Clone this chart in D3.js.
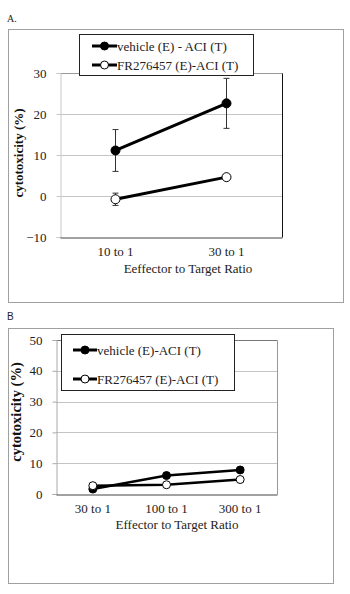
<!DOCTYPE html>
<html><head><meta charset="utf-8">
<script src="https://cdn.jsdelivr.net/npm/d3@7"></script>
<style>html,body{margin:0;padding:0;background:#fff;}svg{display:block;}</style>
</head><body>
<script>
// ---- Panel A data ----
const categoriesA = ["10 to 1", "30 to 1"];
const vehicleA = [11.1, 22.6];
const vehicleAErr = [5.1, 6.1];
const frA = [-0.8, 4.6];
const frAErr = [1.5, 0.7];
const ticksA = [-10, 0, 10, 20, 30];
const legendA = ["vehicle (E) - ACI (T)", "FR276457 (E)-ACI (T)"];
const xTitleA = "Eeffector to Target Ratio";

// ---- Panel B data ----
const categoriesB = ["30 to 1", "100 to 1", "300 to 1"];
const vehicleB = [1.6, 6.0, 7.8];
const frB = [2.7, 3.0, 4.7];
const ticksB = [0, 10, 20, 30, 40, 50];
const legendB = ["vehicle (E)-ACI (T)", "FR276457 (E)-ACI (T)"];
const xTitleB = "Effector to Target Ratio";

const yTitle = "cytotoxicity (%)";
const serif = "'Liberation Serif','Times New Roman',serif";

const svg = d3.select("body").append("svg").attr("width", 350).attr("height", 594);

function panel(o) {
  const g = svg.append("g");
  // outer frame
  g.append("rect").attr("x", o.frame[0] + 0.5).attr("y", o.frame[1] + 0.5)
    .attr("width", o.frame[2] - o.frame[0]).attr("height", o.frame[3] - o.frame[1])
    .attr("fill", "#fff").attr("stroke", "#a0a0a0").attr("stroke-width", 1);
  g.append("text").attr("x", 7).attr("y", o.labelY).text(o.label)
    .attr("font-family", o.labelFont).attr("font-size", o.labelSize).attr("fill", "#222");

  const x = d3.scaleBand().domain(o.cats).range([o.plot[0], o.plot[2]]);
  const y = d3.scaleLinear().domain([o.ticks[0], o.ticks[o.ticks.length - 1]]).range([o.plot[3], o.plot[1]]);
  const cx = c => x(c) + x.bandwidth() / 2;

  // gridlines
  g.append("g").selectAll("line").data(o.ticks.slice(1, -1)).join("line")
    .attr("x1", o.plot[0]).attr("x2", o.plot[2])
    .attr("y1", d => Math.round(y(d)) + 0.5).attr("y2", d => Math.round(y(d)) + 0.5)
    .attr("stroke", "#c4c4c4").attr("stroke-width", 1);
  // plot border top & right
  const top = Math.round(y(o.ticks[o.ticks.length - 1])) + 0.5;
  const bot = Math.round(y(o.ticks[0])) + 0.5;
  g.append("line").attr("x1", o.plot[0]).attr("x2", o.plot[2] + 0.5).attr("y1", top).attr("y2", top)
    .attr("stroke", o.topColor).attr("stroke-width", 1);
  g.append("line").attr("x1", o.plot[2] + 0.5).attr("x2", o.plot[2] + 0.5).attr("y1", top).attr("y2", bot)
    .attr("stroke", o.rightColor).attr("stroke-width", 1);
  // left axis
  const yAxis = g.append("g").attr("transform", `translate(${o.plot[0] + 0.5},0)`)
    .call(d3.axisLeft(y).tickValues(o.ticks).tickSize(4).tickPadding(o.tickPad).tickFormat(d3.format("d")));
  yAxis.select(".domain").attr("stroke", o.leftColor);
  yAxis.selectAll(".tick line").attr("stroke", o.leftColor);
  yAxis.selectAll("text").attr("font-family", serif).attr("font-size", 13).attr("fill", "#222");
  // bottom axis
  const xAxis = g.append("g").attr("transform", `translate(0,${bot})`)
    .call(d3.axisBottom(x).tickSize(0).tickPadding(o.xPad));
  xAxis.select(".domain").attr("stroke", "#444");
  xAxis.selectAll("text").attr("font-family", serif).attr("font-size", 13).attr("fill", "#222");

  // titles
  g.append("text").attr("transform", `translate(${o.yTitlePos[0]},${o.yTitlePos[1]}) rotate(-90)`)
    .attr("text-anchor", "middle").attr("font-family", serif).attr("font-weight", "bold")
    .attr("font-size", o.yTitleSize).attr("fill", "#111").text(yTitle);
  g.append("text").attr("x", o.xTitlePos[0]).attr("y", o.xTitlePos[1]).attr("text-anchor", "middle")
    .attr("font-family", serif).attr("font-size", 13).attr("fill", "#222").text(o.xTitle);

  // series
  const series = [
    { vals: o.veh, err: o.vehErr, fill: "#000" },
    { vals: o.fr, err: o.frErr, fill: "#fff" }
  ];
  const line = d3.line().x((d, i) => cx(o.cats[i])).y(d => y(d));
  series.forEach(s => {
    if (s.err) {
      const eg = g.append("g");
      s.vals.forEach((v, i) => {
        const px = cx(o.cats[i]);
        eg.append("line").attr("x1", px).attr("x2", px).attr("y1", y(v - s.err[i])).attr("y2", y(v + s.err[i]))
          .attr("stroke", "#333").attr("stroke-width", 1);
        [v - s.err[i], v + s.err[i]].forEach(e => {
          eg.append("line").attr("x1", px - 3).attr("x2", px + 3).attr("y1", y(e)).attr("y2", y(e))
            .attr("stroke", "#333").attr("stroke-width", 1);
        });
      });
    }
    g.append("path").datum(s.vals).attr("d", line).attr("fill", "none")
      .attr("stroke", "#000").attr("stroke-width", o.lw);
  });
  series.forEach(s => {
    g.append("g").selectAll("circle").data(s.vals).join("circle")
      .attr("cx", (d, i) => cx(o.cats[i])).attr("cy", d => y(d)).attr("r", o.r)
      .attr("fill", s.fill).attr("stroke", "#000").attr("stroke-width", 1);
  });

  // legend
  const L = o.legend;
  g.append("rect").attr("x", L.box[0] + 0.5).attr("y", L.box[1] + 0.5)
    .attr("width", L.box[2] - L.box[0]).attr("height", L.box[3] - L.box[1])
    .attr("fill", "#fff").attr("stroke", "#222").attr("stroke-width", 1);
  o.legendText.forEach((t, i) => {
    const ly = L.rows[i];
    g.append("line").attr("x1", L.lx[0]).attr("x2", L.lx[1]).attr("y1", ly).attr("y2", ly)
      .attr("stroke", "#000").attr("stroke-width", 3);
    g.append("circle").attr("cx", (L.lx[0] + L.lx[1]) / 2).attr("cy", ly).attr("r", 4)
      .attr("fill", series[i].fill).attr("stroke", "#000").attr("stroke-width", 1);
    g.append("text").attr("x", L.lx[1]).attr("y", ly + 4.5).text(t)
      .attr("font-family", serif).attr("font-size", 13).attr("fill", "#222");
  });
}

panel({
  frame: [8, 29, 343, 302], label: "A.", labelY: 22, labelFont: serif, labelSize: 10,
  cats: categoriesA, ticks: ticksA, plot: [60, 73, 282, 237],
  veh: vehicleA, vehErr: vehicleAErr, fr: frA, frErr: frAErr,
  tickPad: 10, xPad: 9, lw: 3, r: 4.5,
  topColor: "#999", rightColor: "#111", leftColor: "#c8c8c8",
  yTitlePos: [23, 153], yTitleSize: 13, xTitlePos: [188, 273], xTitle: xTitleA,
  legend: { box: [79, 34, 253, 75], rows: [46, 65], lx: [92, 117] }, legendText: legendA
});

panel({
  frame: [8, 328, 333, 583], label: "B", labelY: 320, labelFont: "'Liberation Sans',Arial,sans-serif", labelSize: 10,
  cats: categoriesB, ticks: ticksB, plot: [56, 340, 277, 494],
  veh: vehicleB, vehErr: null, fr: frB, frErr: null,
  tickPad: 10, xPad: 9, lw: 2.5, r: 4,
  topColor: "#777", rightColor: "#999", leftColor: "#aaa",
  yTitlePos: [21, 412], yTitleSize: 14.5, xTitlePos: [177, 529], xTitle: xTitleB,
  legend: { box: [61, 334, 234, 390], rows: [350, 379], lx: [73, 97] }, legendText: legendB
});
</script>
</body></html>
